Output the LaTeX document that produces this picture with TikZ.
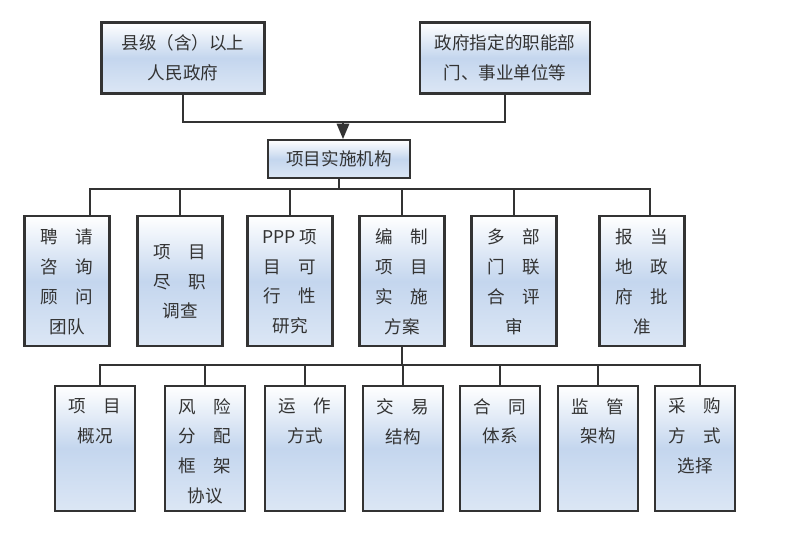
\documentclass[tikz,border=0pt]{standalone}
\usepackage{fontspec}
\setmainfont{Noto Sans CJK SC}
\usetikzlibrary{arrows,positioning}
\definecolor{lblue}{RGB}{196, 214, 238}
\tikzstyle{block} = [rectangle, draw=black!80, line width=1.2pt, top color=white,
  bottom color=lblue!60, middle color=lblue, shading angle=0, align=center,
  font=\fontsize{10}{17}\selectfont, text=black!80]
\tikzstyle{line} = [draw, line width=1pt, color=black!80]
\begin{document}
\begin{tikzpicture}[x=0.02cm, y=-0.02cm]
  \useasboundingbox (0,0) rectangle (800,535);

  % top level
  \node [block, minimum width=163*0.02cm, minimum height=71*0.02cm] at (183,58) (county) {县级（含）以上\\人民政府};
  \node [block, minimum width=170*0.02cm, minimum height=71*0.02cm] at (505,58) (dept) {政府指定的职能部\\门、事业单位等};
  \node [block, minimum width=142*0.02cm, minimum height=38*0.02cm] at (339,159) (agency) {项目实施机构};
  \coordinate (j1) at (183,122);
  \coordinate (j2) at (505,122);
  \coordinate (j3) at (343,122);
  \draw [line] (county) -- (j1) -- (j2) -- (dept);
  \draw [line, -triangle 45] (j3) -- (agency.north -| j3);

  % second level
  \foreach \x/\name/\txt in {67/hire/{聘\quad 请\\咨\quad 询\\顾\quad 问\\团队},
      180/survey/{项\quad 目\\尽\quad 职\\调查},
      290/study/{PPP 项\\目\quad 可\\行\quad 性\\研究},
      402/plan/{编\quad 制\\项\quad 目\\实\quad 施\\方案},
      514/review/{多\quad 部\\门\quad 联\\合\quad 评\\审},
      642/approve/{报\quad 当\\地\quad 政\\府\quad 批\\准}} {
    \node [block, minimum width=85*0.02cm, minimum height=130*0.02cm, anchor=north, text depth=0pt] at (\x,215) (\name) {\txt};
  }
  \coordinate (b1) at (90,189);
  \coordinate (b2) at (650,189);
  \draw [line] (agency) -- (agency.south |- b1);
  \draw [line] (hire.north -| b1) -- (b1) -- (b2) -- (approve.north -| b2);
  \foreach \name in {survey, study, plan, review}
    \draw [line] (\name.north |- b1) -- (\name);

  % third level
  \foreach \x/\name/\txt in {95/overview/{项\quad 目\\概况},
      205/risk/{风\quad 险\\分\quad 配\\框\quad 架\\协议},
      305/mode/{运\quad 作\\方式},
      403/deal/{交\quad 易\\结构},
      500/contract/{合\quad 同\\体系},
      598/supervise/{监\quad 管\\架构},
      695/purchase/{采\quad 购\\方\quad 式\\选择}} {
    \node [block, minimum width=80*0.02cm, minimum height=125*0.02cm, anchor=north] at (\x,385) (\name) {};
    \node [anchor=north, align=center, font=\fontsize{10}{17}\selectfont, text=black!80] at (\x,392) (\name-text) {\txt};
  }
  \coordinate (c1) at (100,365);
  \coordinate (c2) at (700,365);
  \draw [line] (plan) -- (plan.south |- c1);
  \draw [line] (overview.north -| c1) -- (c1) -- (c2) -- (purchase.north -| c2);
  \foreach \name in {risk, mode, deal, contract, supervise}
    \draw [line] (\name.north |- c1) -- (\name);
\end{tikzpicture}
\end{document}
